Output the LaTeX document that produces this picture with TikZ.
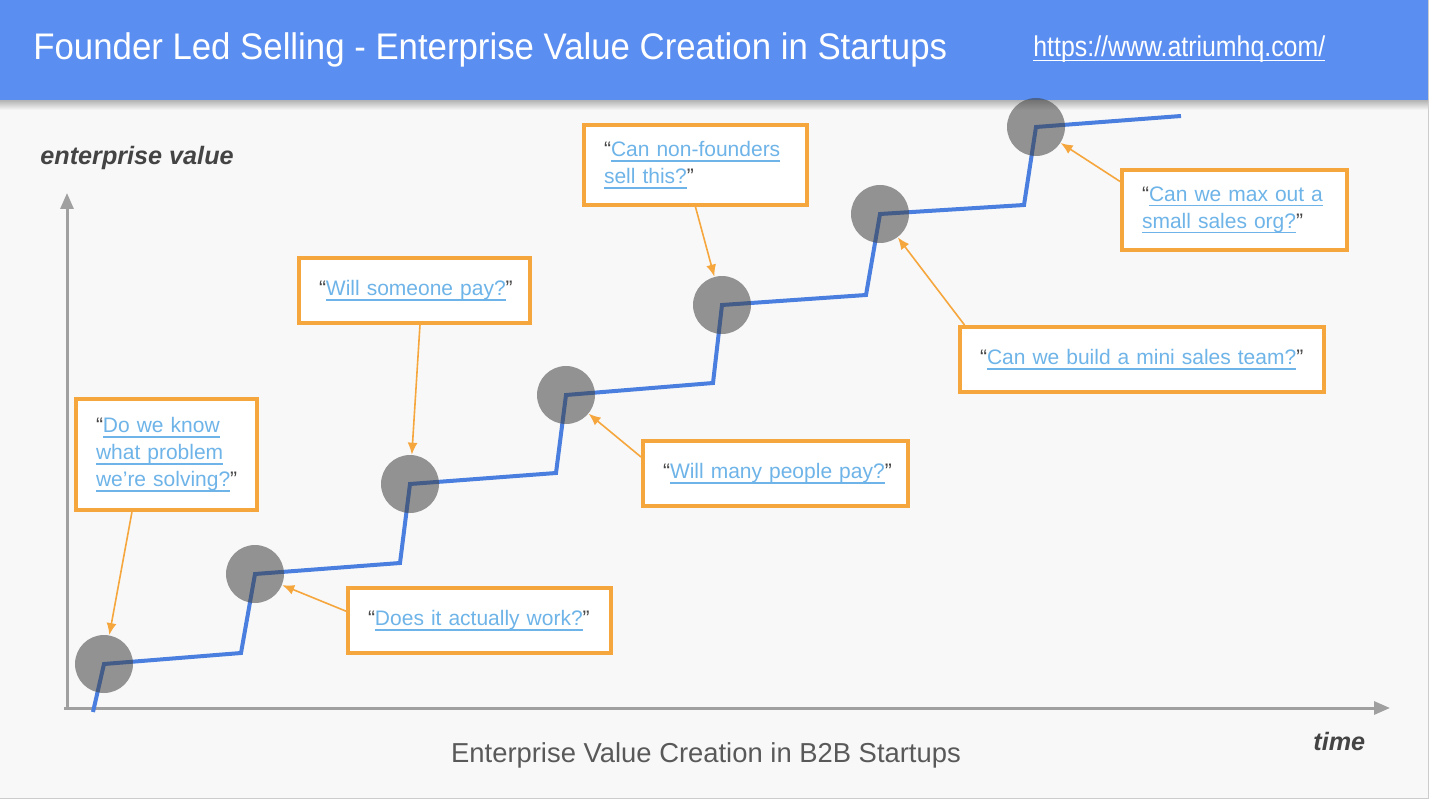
\documentclass[tikz,border=0pt]{standalone}
\usepackage{fontspec}
\setmainfont{Liberation Sans}
\newfontfamily\titlefont[FakeStretch=0.94]{Liberation Sans}
\newfontfamily\urlfont[FakeStretch=0.87]{Liberation Sans}
\usepackage{xcolor}
\usepackage{tikz}
\usetikzlibrary{arrows.meta}
\usetikzlibrary{shapes,positioning,calc}

\definecolor{hdrblue}{RGB}{90,142,240}
\definecolor{stepblue}{RGB}{74,127,224}
\definecolor{boxorange}{RGB}{245,166,60}
\definecolor{linkblue}{RGB}{110,180,232}
\definecolor{axisgray}{RGB}{160,160,160}
\definecolor{labelgray}{RGB}{68,68,68}
\definecolor{slidebg}{RGB}{248,248,248}

\newsavebox{\lnkbox}
\newcommand{\ulbox}[2]{\sbox{\lnkbox}{#2}\rlap{\rule[#1]{\wd\lnkbox}{0.6pt}}\usebox{\lnkbox}}
\newcommand{\lnk}[1]{\textcolor{linkblue}{\ulbox{-2.4pt}{#1}}}
\newcommand{\oq}{\textcolor{labelgray}{“}}
\newcommand{\cq}{\textcolor{labelgray}{”}}

\tikzset{
	question/.style={draw=boxorange, line width=2pt, fill=white, align=left, inner xsep=10pt,
		font=\fontsize{10.5}{13.5}\selectfont},
	milestone/.style={circle, fill=black!75, opacity=0.55, minimum size=29pt, inner sep=0pt},
	pointer/.style={->, draw=boxorange, line width=0.8pt},
	stepline/.style={draw=stepblue, line width=2pt, line join=miter},
	axis/.style={draw=axisgray, line width=1.5pt, -{Triangle[length=8pt,width=6.5pt]}}
}

\begin{document}
\begin{tikzpicture}[x=0.5pt, y=-0.5pt, >={Latex[length=6pt,width=5pt]}]
		\useasboundingbox (0,0) rectangle (1434,802);
		\fill[white] (0,0) rectangle (1434,802);
		\fill[slidebg] (0,0) rectangle (1428,798);
		\draw[black!20] (1428,0) -- (1428,798) -- (0,798);
		
		% header
		\shade[top color=black!30, bottom color=slidebg] (0,100) rectangle (1428,110);
		\fill[hdrblue] (0,0) rectangle (1428,100);
		\node[anchor=base west, inner sep=0, text=white, font=\titlefont\fontsize{18.5}{20}\selectfont] (title) at (33,60)
			{Founder Led Selling - Enterprise Value Creation in Startups};
		\node[anchor=base west, inner sep=0, text=white, font=\urlfont\fontsize{14.3}{16}\selectfont] (url) at (1033,57)
			{\ulbox{-2.2pt}{https://www.atriumhq.com/}};
		
		% axes
		\coordinate (origin) at (67,708); \coordinate (ytop) at (67,193); \coordinate (xend) at (1390,708);
		\draw[axis] (origin) -- (ytop); \draw[axis] (64,708) -- (xend);
		\node[anchor=base west, inner sep=0, text=labelgray, font=\fontsize{12.6}{14}\selectfont\bfseries\itshape] (ylab) at (40,165) {enterprise value};
		\node[anchor=base west, inner sep=0, text=labelgray, font=\fontsize{12.6}{14}\selectfont\bfseries\itshape] (xlab) at (1313,750) {time};
		\node[anchor=base, inner sep=0, text=black!65, font=\fontsize{13.7}{16}\selectfont] (caption) at (706,762)
			{Enterprise Value Creation in B2B Startups};
		
		% value steps
		\coordinate (s0) at (93,712);
		\coordinate (k1) at (241,653); \coordinate (k2) at (400,563); \coordinate (k3) at (556,473);
		\coordinate (k4) at (713,383); \coordinate (k5) at (866,295); \coordinate (k6) at (1024,205);
		\coordinate (s8) at (1181,116);
		\coordinate (p1) at (104,664); \coordinate (p2) at (255,574); \coordinate (p3) at (410,484);
		\coordinate (p4) at (566,395); \coordinate (p5) at (722,305); \coordinate (p6) at (880,214);
		\coordinate (p7) at (1036,127);
		\draw[stepline] (s0) -- (p1) -- (k1) -- (p2) -- (k2) -- (p3) -- (k3) -- (p4) -- (k4) -- (p5)
			-- (k5) -- (p6) -- (k6) -- (p7) -- (s8);
		\foreach \i in {1,...,7} \node[milestone] (c\i) at (p\i) {};
		
		% questions
		\node[question, text width=70.5pt, minimum height=55.5pt] (q1) at (166.5,454.5)
			{\oq\lnk{Do we know}\\\lnk{what problem}\\\lnk{we’re solving?}\cq};
		\node[question, text width=95.5pt, minimum height=32.5pt] (q2) at (414.5,290.5)
			{\oq\lnk{Will someone pay?}\cq};
		\node[question, text width=111.5pt, minimum height=32.5pt] (q3) at (479.5,620.5)
			{\oq\lnk{Does it actually work?}\cq};
		\node[question, text width=112.5pt, minimum height=32.5pt] (q4) at (775.5,473.5)
			{\oq\lnk{Will many people pay?}\cq};
		\node[question, text width=91.5pt, minimum height=40pt] (q5) at (695.5,165)
			{\oq\lnk{Can non-founders}\\\lnk{sell this?}\cq};
		\node[question, text width=162pt, minimum height=32.5pt] (q6) at (1142,359.5)
			{\oq\lnk{Can we build a mini sales team?}\cq};
		\node[question, text width=92.5pt, minimum height=40pt] (q7) at (1234.5,210)
			{\oq\lnk{Can we max out a}\\\lnk{small sales org?}\cq};
		
		\draw[pointer] (q1.239) -- (c1); \draw[pointer] (q2.-81) -- (c3);
		\draw[pointer] (q3.176) -- (c2); \draw[pointer] (q4.173) -- (c4);
		\draw[pointer] (q5.south) -- (c5); \draw[pointer] (q6.169) -- (c6);
		\draw[pointer] (q7.166) -- (c7);
	\end{tikzpicture}
\end{document}
